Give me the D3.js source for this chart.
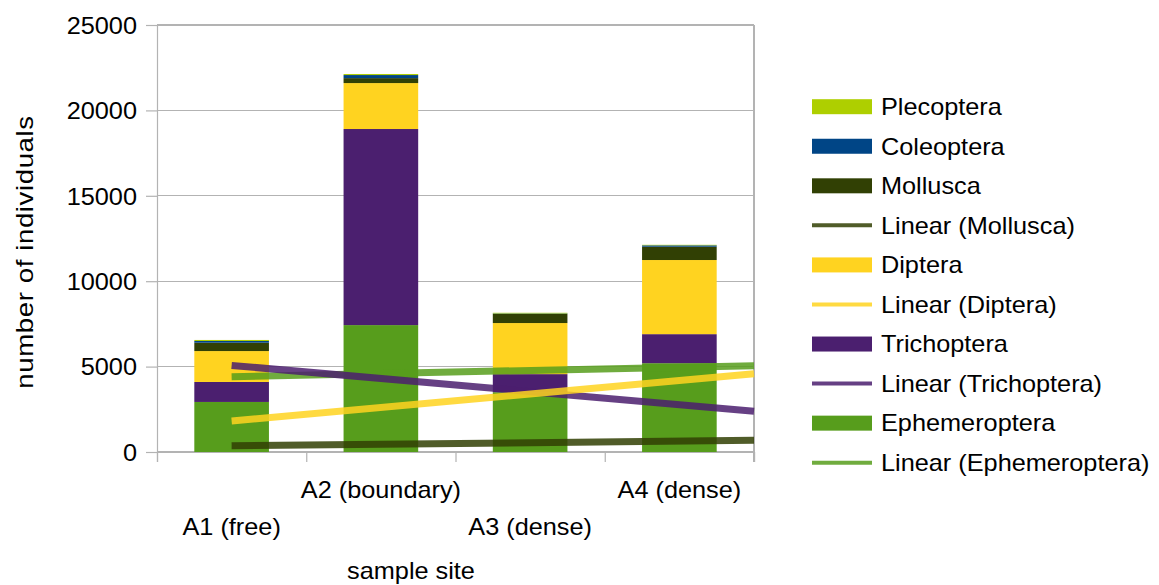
<!DOCTYPE html>
<html>
<head>
<meta charset="utf-8">
<script src="https://cdn.jsdelivr.net/npm/d3@7/dist/d3.min.js"></script>
<style>
  html, body { margin: 0; padding: 0; background: #ffffff; }
  svg { display: block; }
  text { font-family: "Liberation Sans", Arial, sans-serif; fill: #000; }
</style>
</head>
<body>
<svg id="chart" width="1159" height="585"></svg>
<script>
// ---- data ----
const categories = ["A1 (free)", "A2 (boundary)", "A3 (dense)", "A4 (dense)"];
const seriesNames = ["Ephemeroptera", "Trichoptera", "Diptera", "Mollusca", "Coleoptera", "Plecoptera"];
const seriesColors = ["#579d1c", "#4b1f6f", "#ffd320", "#314004", "#004586", "#aecf00"];
const ephemeroptera = [2930, 7430, 3500, 5200];
const trichoptera   = [1170, 11480, 1060, 1700];
const diptera       = [1810, 2690, 2990, 4340];
const mollusca      = [490, 290, 530, 780];
const coleoptera    = [100, 180, 30, 80];
const plecoptera    = [60, 60, 40, 30];
const yTicks = [0, 5000, 10000, 15000, 20000, 25000];

// linear trend lines (values read at A1 and at the right edge of the plot)
const trendSeries  = ["Ephemeroptera", "Trichoptera", "Diptera", "Mollusca"];
const trendAtFirst = [4410, 5070, 1815, 362];
const trendAtEdge  = [5050, 2385, 4580, 685];

const legendItems = [
  {name: "Plecoptera", type: "bar"},
  {name: "Coleoptera", type: "bar"},
  {name: "Mollusca", type: "bar"},
  {name: "Mollusca", type: "trend"},
  {name: "Diptera", type: "bar"},
  {name: "Diptera", type: "trend"},
  {name: "Trichoptera", type: "bar"},
  {name: "Trichoptera", type: "trend"},
  {name: "Ephemeroptera", type: "bar"},
  {name: "Ephemeroptera", type: "trend"}
];

// ---- layout ----
const plot = {left: 157, right: 754, top: 25, bottom: 452};
const grid = "#b3b3b3";
const fontSize = 23;
const stretch = 1.1;
const trendOpacity = 0.85;

const svg = d3.select("#chart");
const colorOf = d3.scaleOrdinal().domain(seriesNames).range(seriesColors);

const x = d3.scaleBand().domain(categories).range([plot.left, plot.right]).paddingInner(0.5).paddingOuter(0.25);
const xLin = d3.scaleLinear().domain([0.5, categories.length + 0.5]).range([plot.left, plot.right]);
const y = d3.scaleLinear().domain([0, 25000]).range([plot.bottom, plot.top]);

// gridlines
svg.append("g").selectAll("line").data(yTicks).join("line")
  .attr("x1", plot.left).attr("x2", plot.right)
  .attr("y1", d => y(d)).attr("y2", d => y(d))
  .attr("stroke", grid).attr("stroke-width", 1.2).attr("shape-rendering", "crispEdges");

// right border
svg.append("line").attr("x1", plot.right).attr("x2", plot.right)
  .attr("y1", plot.top).attr("y2", plot.bottom + 10)
  .attr("stroke", grid).attr("stroke-width", 1.2).attr("shape-rendering", "crispEdges");

// y axis
const yAxis = svg.append("g").attr("transform", `translate(${plot.left},0)`)
  .call(d3.axisLeft(y).tickValues(yTicks).tickSize(11).tickPadding(9).tickFormat(d3.format("d")));
yAxis.select(".domain").attr("stroke", grid).attr("stroke-width", 1.2);
yAxis.selectAll(".tick line").attr("stroke", grid).attr("stroke-width", 1.2);
yAxis.selectAll(".tick text").each(function() {
  const t = d3.select(this);
  const xx = +t.attr("x");
  t.attr("x", null).attr("dy", null).attr("y", null)
   .attr("font-size", fontSize).attr("text-anchor", "end")
   .attr("transform", `translate(${xx},8.3) scale(${stretch},1)`);
}).attr("fill", "#000");

// x axis
const xAxis = svg.append("g").attr("transform", `translate(0,${plot.bottom})`)
  .call(d3.axisBottom(xLin).tickValues(d3.range(0.5, categories.length + 1, 1)).tickSize(10).tickFormat(""));
xAxis.select(".domain").attr("stroke", grid).attr("stroke-width", 1.2);
xAxis.selectAll(".tick line").attr("stroke", grid).attr("stroke-width", 1.2);

svg.append("g").selectAll("text").data(categories).join("text")
  .attr("font-size", fontSize).attr("text-anchor", "middle")
  .attr("transform", (d, i) => `translate(${x(d) + x.bandwidth() / 2},${i % 2 === 0 ? 535 : 498}) scale(${stretch},1)`)
  .text(d => d);

// stacked bars
const valueArrays = [ephemeroptera, trichoptera, diptera, mollusca, coleoptera, plecoptera];
const rows = categories.map((c, i) => {
  const r = {cat: c};
  seriesNames.forEach((s, k) => r[s] = valueArrays[k][i]);
  return r;
});
const stacked = d3.stack().keys(seriesNames)(rows);
svg.append("g").selectAll("g").data(stacked).join("g")
  .attr("fill", d => colorOf(d.key))
  .selectAll("rect").data(d => d).join("rect")
  .attr("x", d => x(d.data.cat))
  .attr("width", x.bandwidth())
  .attr("y", d => y(d[1]))
  .attr("height", d => y(d[0]) - y(d[1]));

// trend lines
svg.append("g").selectAll("line").data(trendSeries).join("line")
  .attr("x1", xLin(1)).attr("x2", xLin(categories.length + 0.5))
  .attr("y1", (d, i) => y(trendAtFirst[i]))
  .attr("y2", (d, i) => y(trendAtEdge[i]))
  .attr("stroke", d => colorOf(d)).attr("stroke-opacity", trendOpacity)
  .attr("stroke-width", 7);

// axis titles
svg.append("text").attr("font-size", fontSize).attr("text-anchor", "middle")
  .attr("transform", `translate(411,579) scale(${stretch},1)`)
  .text("sample site");
svg.append("text").attr("font-size", fontSize).attr("text-anchor", "middle")
  .attr("transform", `translate(33,252) rotate(-90) scale(1.2,1)`)
  .attr("letter-spacing", 0.5)
  .text("number of individuals");

// legend
const lg = svg.append("g");
const rowY = d3.scaleLinear().domain([0, legendItems.length - 1]).range([106.7, 462.7]);
const items = lg.selectAll("g").data(legendItems).join("g")
  .attr("transform", (d, i) => `translate(812,${rowY(i)})`);
items.filter(d => d.type === "bar").append("rect")
  .attr("x", 0).attr("y", -7.5).attr("width", 60).attr("height", 15)
  .attr("fill", d => colorOf(d.name));
items.filter(d => d.type === "trend").append("line")
  .attr("x1", 0).attr("x2", 60).attr("y1", 0).attr("y2", 0)
  .attr("stroke", d => colorOf(d.name)).attr("stroke-opacity", trendOpacity).attr("stroke-width", 4);
items.append("text").attr("font-size", fontSize)
  .attr("transform", `translate(69,8.3) scale(${stretch},1)`)
  .text(d => d.type === "bar" ? d.name : `Linear (${d.name})`);
</script>
</body>
</html>
